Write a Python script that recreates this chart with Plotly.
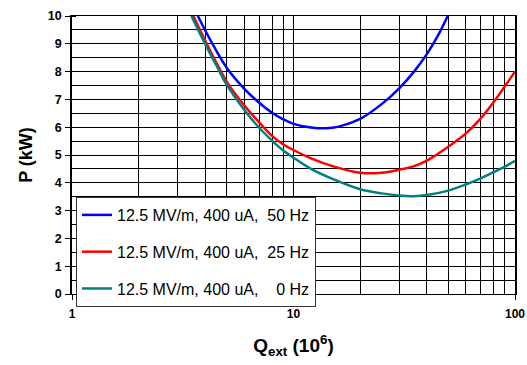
import plotly.graph_objects as go

# Q_ext (10^6) values and power P (kW)
q_50hz = [3.70, 4, 4.5, 5, 6, 7, 8, 9, 10, 12, 14, 16, 20, 25, 30, 35, 40, 45, 49.7]
p_50hz = [10.0, 9.47, 8.73, 8.13, 7.38, 6.88, 6.52, 6.28, 6.12, 5.99, 5.96, 6.02, 6.30, 6.83, 7.40, 8.00, 8.63, 9.31, 10.0]

q_25hz = [3.53, 4, 4.5, 5, 6, 7, 8, 9, 10, 12, 15, 20, 25, 30, 35, 40, 50, 60, 70, 80, 90, 100]
p_25hz = [10.0, 9.10, 8.30, 7.63, 6.78, 6.17, 5.69, 5.38, 5.18, 4.88, 4.60, 4.36, 4.36, 4.47, 4.60, 4.80, 5.30, 5.78, 6.32, 6.90, 7.47, 8.00]

q_0hz = [3.46, 4, 4.5, 5, 6, 7, 8, 9, 10, 12, 15, 20, 25, 30, 35, 40, 50, 60, 70, 80, 90, 100]
p_0hz = [10.0, 8.98, 8.20, 7.52, 6.62, 5.98, 5.52, 5.16, 4.90, 4.50, 4.14, 3.77, 3.62, 3.54, 3.52, 3.56, 3.72, 3.94, 4.16, 4.38, 4.58, 4.79]

names = [
    "12.5 MV/m, 400 uA,\u00a0\u00a050 Hz",
    "12.5 MV/m, 400 uA,\u00a0\u00a025 Hz",
    "12.5 MV/m, 400 uA,\u00a0\u00a0\u00a0\u00a00 Hz",
]
colors = ["#0000FF", "#FF0000", "#008080"]
x_ticks = [1, 10, 100]
x_ticktext = ["1", "10", "100"]

FONT = "Liberation Sans, Arial, sans-serif"

fig = go.Figure()
for name, q, p, c in zip(names, [q_50hz, q_25hz, q_0hz], [p_50hz, p_25hz, p_0hz], colors):
    fig.add_trace(go.Scatter(
        x=q, y=p, mode="lines", name=name, legendgroup=name,
        line=dict(color=c, width=2.5, shape="spline"),
    ))

fig.update_layout(
    width=527, height=365,
    margin=dict(l=72, r=12, t=16, b=71),
    paper_bgcolor="white", plot_bgcolor="white",
    font=dict(family=FONT, color="black"),
    showlegend=True,
    legend=dict(
        x=0.009, y=0.349, xanchor="left", yanchor="top",
        bgcolor="white", bordercolor="#333333", borderwidth=1,
        font=dict(family=FONT, size=16, color="black"),
        tracegroupgap=13,
    ),
)

fig.update_xaxes(
    type="log", range=[0, 2], automargin=False,
    tickmode="array", tickvals=x_ticks, ticktext=x_ticktext,
    ticks="outside", ticklen=5, tickcolor="black", ticklabelstandoff=4,
    tickfont=dict(family=FONT, size=12, weight="bold", color="black"),
    showgrid=True, gridcolor="black", gridwidth=1,
    minor=dict(dtick="D1", showgrid=True, gridcolor="black", gridwidth=1, ticks=""),
    showline=True, mirror=True, linecolor="black", linewidth=1,
    zeroline=False,
    title=dict(text="<b>Q<sub>ext</sub> (10<sup>6</sup>)</b>",
               font=dict(family=FONT, size=19, color="black"), standoff=18),
)
fig.update_yaxes(
    range=[0, 10], dtick=1, automargin=False,
    ticks="outside", ticklen=5, tickcolor="black", ticklabelstandoff=1,
    tickfont=dict(family=FONT, size=12.5, weight="bold", color="black"),
    showgrid=True, gridcolor="black", gridwidth=1,
    minor=dict(dtick=0.5, showgrid=True, gridcolor="black", gridwidth=1,
               ticks="inside", ticklen=4, tickcolor="black"),
    showline=True, mirror=True, linecolor="black", linewidth=1.5,
    zeroline=False,
    title=dict(text="<b>P (kW)</b>", font=dict(family=FONT, size=18, color="black"), standoff=11),
)

# remove the browser's default 8px page margin so the figure fills the window
fig.write_html(
    "out.html",
    config={"displayModeBar": False},
    post_script="document.body.style.margin='0px';",
)
